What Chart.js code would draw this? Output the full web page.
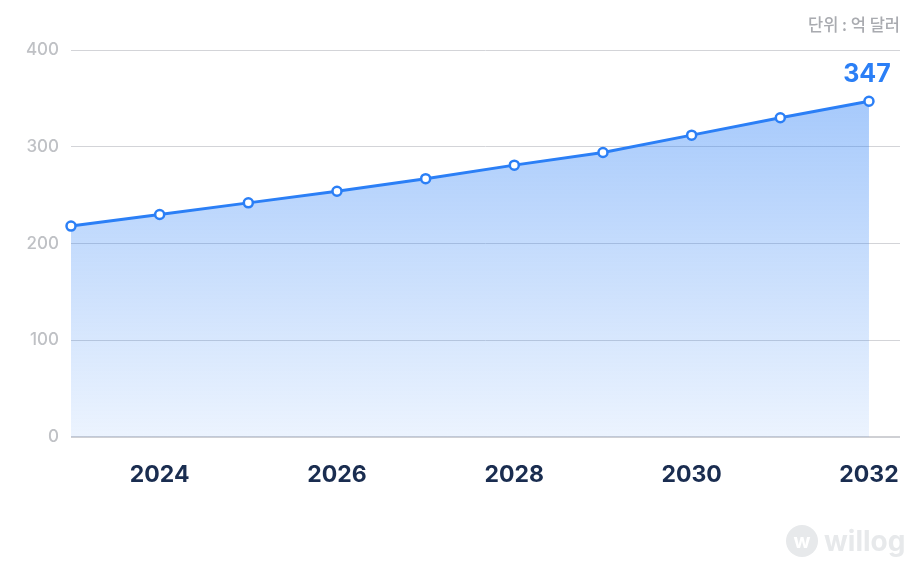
<!DOCTYPE html>
<html>
<head>
<meta charset="utf-8">
<script src="https://cdn.jsdelivr.net/npm/chart.js@4/dist/chart.umd.min.js"></script>
<style>
  html, body { margin: 0; padding: 0; background: #fff; }
  #wrap { position: relative; width: 908px; height: 588px; }
  #unit {
    position: absolute; right: 8px; top: 12px;
    font-family: "Noto Sans CJK KR", "Noto Sans", sans-serif;
    font-size: 16.5px; color: #a9abb0; font-weight: 500;
  }
  #logo {
    position: absolute; left: 786px; top: 524px; height: 34px;
    display: flex; align-items: center; gap: 6px;
    font-family: Inter, "Noto Sans", sans-serif; font-weight: 700;
    font-size: 28px; color: #e7e9eb;
  }
  #logo .dot {
    width: 32px; height: 32px; border-radius: 50%; background: #e7e9eb;
    color: #fff; font-size: 20px; display: flex; align-items: center; justify-content: center;
  }
</style>
</head>
<body>
<div id="wrap">
  <canvas id="chart" width="908" height="588"></canvas>
  <div id="unit">단위 : 억 달러</div>
  <div id="logo"><span class="dot">w</span>willog</div>
</div>
<script>
  const years = [2023, 2024, 2025, 2026, 2027, 2028, 2029, 2030, 2031, 2032];
  const marketSize = [218, 230, 242, 254, 267, 281, 294, 312, 330, 347];
  const xTickYears = [2024, 2026, 2028, 2030, 2032];
  const yTickValues = [0, 100, 200, 300, 400];

  const lineBlue = "#2b7ff6";
  const chartCanvas = document.getElementById("chart");

  // label the last point with its value
  const lastLabel = {
    id: "lastLabel",
    afterDatasetsDraw(chart) {
      const meta = chart.getDatasetMeta(0);
      const pt = meta.data[meta.data.length - 1];
      const c = chart.ctx;
      c.save();
      c.fillStyle = lineBlue;
      c.font = "700 25px Inter, sans-serif";
      c.textAlign = "center";
      c.textBaseline = "middle";
      c.fillText(String(marketSize[marketSize.length - 1]), pt.x - 2, pt.y - 27);
      c.restore();
    },
  };

  new Chart(chartCanvas, {
    type: "line",
    data: {
      datasets: [
        {
          data: years.map((y, i) => ({ x: y, y: marketSize[i] })),
          borderColor: lineBlue,
          borderWidth: 3,
          tension: 0,
          clip: false,
          pointRadius: 4.5,
          pointBorderWidth: 2.5,
          pointBackgroundColor: "#fff",
          pointBorderColor: lineBlue,
          fill: "origin",
          backgroundColor: (context) => {
            const area = context.chart.chartArea;
            if (!area) return "rgba(43,127,246,0.3)";
            const g = context.chart.ctx.createLinearGradient(0, area.top + 50, 0, area.bottom);
            g.addColorStop(0, "rgba(43,127,246,0.42)");
            g.addColorStop(1, "rgba(43,127,246,0.09)");
            return g;
          },
        },
      ],
    },
    options: {
      responsive: false,
      animation: false,
      layout: { padding: { top: 50, right: 8, left: 0, bottom: 0 } },
      plugins: { legend: { display: false }, tooltip: { enabled: false } },
      scales: {
        x: {
          type: "linear",
          min: 2023,
          max: 2032.35,
          afterBuildTicks: (axis) => {
            axis.ticks = xTickYears.map((v) => ({ value: v }));
          },
          afterFit: (axis) => {
            axis.height = 151;
            axis.paddingLeft = 0;
            axis.paddingRight = 0;
          },
          grid: { display: false, drawTicks: false },
          border: { display: false },
          ticks: {
            padding: 24,
            color: "#1a2d50",
            font: { family: "Inter", size: 23, weight: "bold" },
            callback: (v) => String(v),
            maxRotation: 0,
          },
        },
        y: {
          min: 0,
          max: 400,
          afterBuildTicks: (axis) => {
            axis.ticks = yTickValues.map((v) => ({ value: v }));
          },
          afterFit: (axis) => {
            axis.width = 71;
          },
          grid: {
            drawTicks: false,
            color: (c) => (c.tick && c.tick.value === 0 ? "#cfd0d4" : "#d3d4d8"),
            lineWidth: (c) => (c.tick && c.tick.value === 0 ? 2 : 1),
          },
          border: { display: false },
          ticks: {
            padding: 12,
            color: "#bfc1c5",
            font: { family: "Inter", size: 17, weight: "500" },
          },
        },
      },
    },
    plugins: [lastLabel],
  });
</script>
</body>
</html>
